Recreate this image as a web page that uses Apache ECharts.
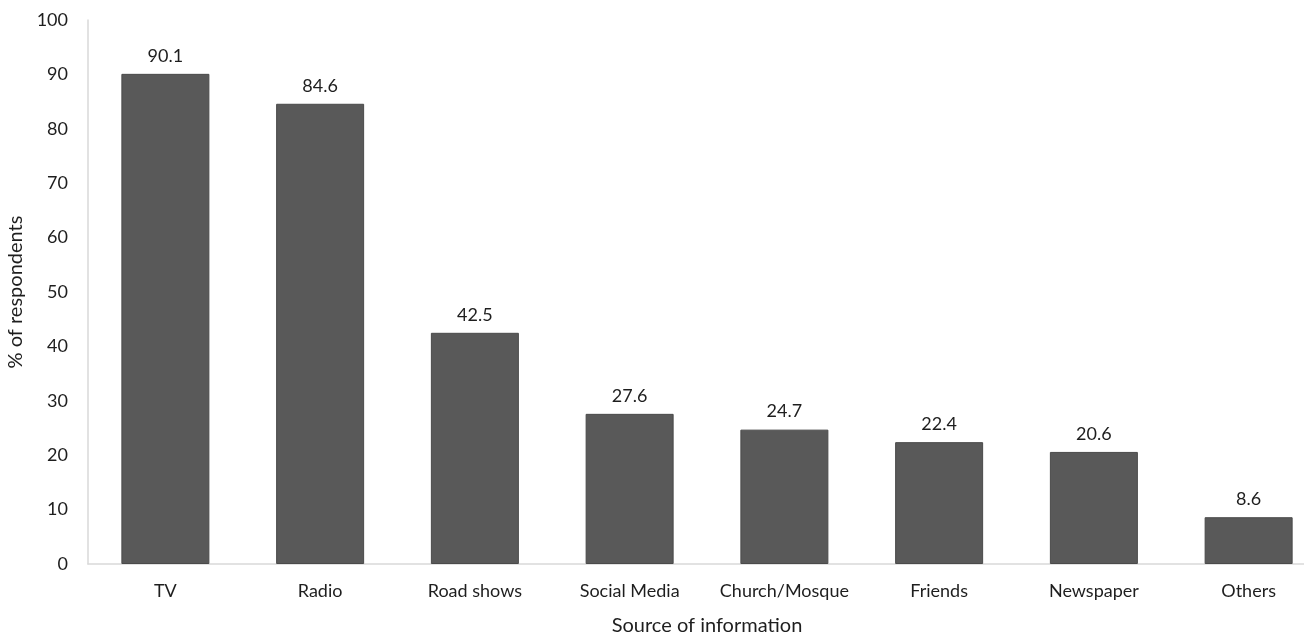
<!DOCTYPE html>
<html>
<head>
<meta charset="utf-8">
<script src="https://cdn.jsdelivr.net/npm/echarts@6/dist/echarts.min.js"></script>
<style>html,body{margin:0;padding:0;background:#fff}#c{width:1304px;height:639px}</style>
</head>
<body>
<div id="c"></div>
<script>
var categories = ['TV', 'Radio', 'Road shows', 'Social Media', 'Church/Mosque', 'Friends', 'Newspaper', 'Others'];
var values = [90.1, 84.6, 42.5, 27.6, 24.7, 22.4, 20.6, 8.6];
var yTicks = [0, 10, 20, 30, 40, 50, 60, 70, 80, 90, 100];

var font = 'Lato, "Open Sans", sans-serif';
var chart = echarts.init(document.getElementById('c'));
chart.setOption({
  animation: false,
  backgroundColor: '#ffffff',
  textStyle: { fontFamily: font },
  grid: { left: 88, width: 1238, top: 20, height: 544, containLabel: false, outerBoundsMode: 'none' },
  xAxis: {
    type: 'category',
    data: categories,
    name: 'Source of information',
    nameLocation: 'middle',
    nameGap: 52,
    nameTextStyle: { fontSize: 20, color: '#1e1e1e', fontFamily: font },
    axisLine: { lineStyle: { color: '#d9d9d9', width: 1.5 } },
    axisTick: { show: false },
    axisLabel: { interval: 0, fontSize: 18, color: '#1e1e1e', margin: 18, fontFamily: font }
  },
  yAxis: {
    type: 'value',
    min: yTicks[0],
    max: yTicks[yTicks.length - 1],
    interval: 10,
    name: '% of respondents',
    nameLocation: 'middle',
    nameGap: 61,
    nameTextStyle: { fontSize: 20, color: '#1e1e1e', fontFamily: font },
    axisLine: { show: true, lineStyle: { color: '#d9d9d9', width: 1.5 } },
    axisTick: { show: false },
    splitLine: { show: false },
    axisLabel: { fontSize: 18, color: '#1e1e1e', margin: 20, fontFamily: font }
  },
  series: [{
    type: 'bar',
    data: values,
    barWidth: 88,
    itemStyle: { color: '#595959', borderColor: '#4a4a4a', borderWidth: 1 },
    label: { show: true, position: 'top', distance: 9, fontSize: 18, color: '#1e1e1e', fontFamily: font }
  }]
});
</script>
</body>
</html>
